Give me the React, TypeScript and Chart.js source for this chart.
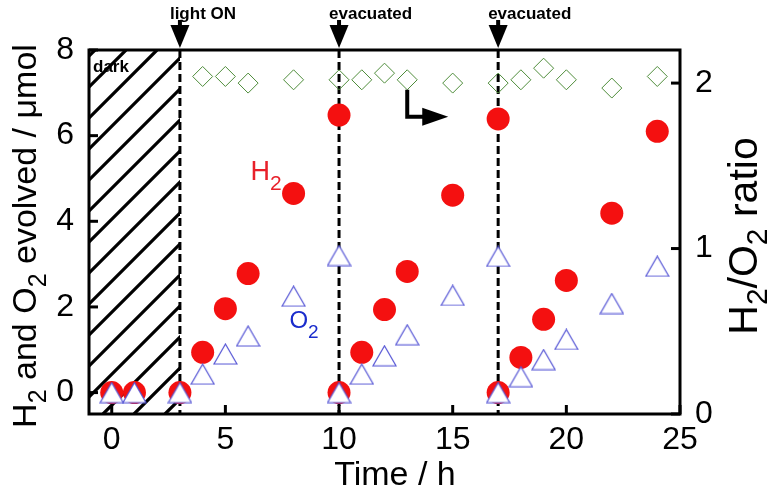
import React, { useEffect, useRef } from "react";
import { Chart, registerables } from "chart.js";

Chart.register(...registerables);

// ---- data ----
const h2Times = [0, 1, 3, 4, 5, 6, 8, 10, 10, 11, 12, 13, 15, 17, 17, 18, 19, 20, 22, 24];
const h2Values = [0, 0, 0, 0.94, 1.96, 2.78, 4.65, 6.48, 0, 0.94, 1.94, 2.83, 4.61, 6.39, 0, 0.82, 1.71, 2.62, 4.19, 6.1];
const o2Times = [0, 1, 3, 4, 5, 6, 8, 10, 10, 11, 12, 13, 15, 17, 17, 18, 19, 20, 22, 24];
const o2Values = [0, 0, 0, 0.43, 0.9, 1.32, 2.25, 3.2, 0, 0.43, 0.86, 1.35, 2.27, 3.18, 0, 0.37, 0.77, 1.24, 2.08, 2.95];
const ratioTimes = [4, 5, 6, 8, 10, 11, 12, 13, 15, 17, 18, 19, 20, 22, 24];
const ratioValues = [2.04, 2.04, 2.0, 2.02, 2.02, 2.02, 2.06, 2.02, 2.0, 2.0, 2.02, 2.09, 2.02, 1.97, 2.04];

const xTicks = [0, 5, 10, 15, 20, 25];
const yTicks = [0, 2, 4, 6, 8];
const y1Ticks = [0, 1, 2];

const eventTimes = [3, 10, 17];
const eventLabels = ["light ON", "evacuated", "evacuated"];
const darkRange = [-1, 3];
const ratioArrowTime = 13;

const FONT = "'Liberation Sans', Arial, Helvetica, sans-serif";

type Part = { t: string; sub?: boolean };

function drawRich(ctx: CanvasRenderingContext2D, parts: Part[], size: number, subSize: number, subDrop: number, color: string) {
  ctx.fillStyle = color;
  ctx.textBaseline = "alphabetic";
  ctx.textAlign = "left";
  let total = 0;
  for (const p of parts) {
    ctx.font = `${p.sub ? subSize : size}px ${FONT}`;
    total += ctx.measureText(p.t).width;
  }
  let x = -total / 2;
  for (const p of parts) {
    ctx.font = `${p.sub ? subSize : size}px ${FONT}`;
    ctx.fillText(p.t, x, p.sub ? subDrop : 0);
    x += ctx.measureText(p.t).width;
  }
}

function makeTriangle(): HTMLCanvasElement {
  const c = document.createElement("canvas");
  const w = 25, h = 22;
  c.width = w;
  c.height = h;
  const g = c.getContext("2d")!;
  g.beginPath();
  g.moveTo(w / 2, 1);
  g.lineTo(w - 1, h - 1);
  g.lineTo(1, h - 1);
  g.closePath();
  g.fillStyle = "#ffffff";
  g.fill();
  g.strokeStyle = "#5555d5";
  g.lineWidth = 1.2;
  g.stroke();
  return c;
}

const decorPlugin = {
  id: "decor",
  beforeDatasetsDraw(chart: any) {
    const { ctx, chartArea: a, scales } = chart;
    const xs = scales.x;
    ctx.save();
    // hatched dark region
    const hx0 = xs.getPixelForValue(darkRange[0]);
    const hx1 = xs.getPixelForValue(darkRange[1]);
    ctx.beginPath();
    ctx.rect(hx0, a.top, hx1 - hx0, a.bottom - a.top);
    ctx.clip();
    ctx.strokeStyle = "#000";
    ctx.lineWidth = 3.2;
    const H = a.bottom - a.top;
    for (let k = -20; k < 20; k++) {
      const x0 = hx0 + 14 + 31 * k;
      ctx.beginPath();
      ctx.moveTo(x0, a.bottom);
      ctx.lineTo(x0 + H, a.top);
      ctx.stroke();
    }
    ctx.restore();

    ctx.save();
    ctx.fillStyle = "#000";
    ctx.font = `bold 17px ${FONT}`;
    ctx.textBaseline = "alphabetic";
    ctx.textAlign = "left";
    ctx.fillText("dark", hx0 + 4, a.top + 22);
    ctx.restore();

    // dashed event lines
    ctx.save();
    ctx.strokeStyle = "#000";
    ctx.lineWidth = 3;
    ctx.setLineDash([8, 4]);
    for (const t of eventTimes) {
      const px = xs.getPixelForValue(t);
      ctx.beginPath();
      ctx.moveTo(px, a.top);
      ctx.lineTo(px, a.bottom);
      ctx.stroke();
    }
    ctx.restore();
  },
  afterDatasetsDraw(chart: any) {
    const { ctx, chartArea: a, scales } = chart;
    const xs = scales.x, ys = scales.y, y1 = scales.y1;
    ctx.save();
    // frame
    ctx.strokeStyle = "#000";
    ctx.lineWidth = 3;
    ctx.strokeRect(a.left, a.top, a.right - a.left, a.bottom - a.top);
    // inward ticks
    ctx.lineWidth = 3;
    for (const v of xTicks) {
      const px = xs.getPixelForValue(v);
      ctx.beginPath();
      ctx.moveTo(px, a.bottom);
      ctx.lineTo(px, a.bottom - 9);
      ctx.stroke();
    }
    for (const v of yTicks) {
      const py = ys.getPixelForValue(v);
      ctx.beginPath();
      ctx.moveTo(a.left, py);
      ctx.lineTo(a.left + 9, py);
      ctx.stroke();
    }
    for (const v of y1Ticks) {
      const py = y1.getPixelForValue(v);
      ctx.beginPath();
      ctx.moveTo(a.right, py);
      ctx.lineTo(a.right - 9, py);
      ctx.stroke();
    }

    // event arrows and labels
    ctx.fillStyle = "#000";
    for (let i = 0; i < eventTimes.length; i++) {
      const px = xs.getPixelForValue(eventTimes[i]);
      ctx.fillRect(px - 2, 20, 4, 10);
      ctx.beginPath();
      ctx.moveTo(px - 9.5, 25);
      ctx.lineTo(px + 9.5, 25);
      ctx.lineTo(px, 48);
      ctx.closePath();
      ctx.fill();
      ctx.font = `bold 17px ${FONT}`;
      ctx.textAlign = "left";
      ctx.textBaseline = "alphabetic";
      ctx.fillText(eventLabels[i], px - 10, 19);
    }

    // L-shaped arrow pointing to right axis
    const ax = xs.getPixelForValue(ratioArrowTime);
    const ay0 = y1.getPixelForValue(ratioValues[ratioTimes.indexOf(ratioArrowTime)]) + 10;
    const ay1 = ay0 + 27;
    ctx.strokeStyle = "#000";
    ctx.lineWidth = 4;
    ctx.setLineDash([]);
    ctx.beginPath();
    ctx.moveTo(ax, ay0);
    ctx.lineTo(ax, ay1);
    ctx.lineTo(ax + 17, ay1);
    ctx.stroke();
    ctx.beginPath();
    ctx.moveTo(ax + 15, ay1 - 9);
    ctx.lineTo(ax + 41, ay1);
    ctx.lineTo(ax + 15, ay1 + 9);
    ctx.closePath();
    ctx.fill();

    // series labels
    ctx.save();
    ctx.translate(266, 180);
    drawRich(ctx, [{ t: "H" }, { t: "2", sub: true }], 27, 21, 10, "#e8202a");
    ctx.restore();
    ctx.save();
    ctx.translate(304, 328);
    drawRich(ctx, [{ t: "O" }, { t: "2", sub: true }], 24, 19, 10, "#1a2ccc");
    ctx.restore();

    // axis titles
    ctx.save();
    ctx.translate(36, 236);
    ctx.rotate(-Math.PI / 2);
    drawRich(
      ctx,
      [{ t: "H" }, { t: "2", sub: true }, { t: " and O" }, { t: "2", sub: true }, { t: " evolved / μmol" }],
      34, 25, 10, "#000"
    );
    ctx.restore();
    ctx.save();
    ctx.translate(757, 236);
    ctx.rotate(-Math.PI / 2);
    drawRich(ctx, [{ t: "H" }, { t: "2", sub: true }, { t: "/O" }, { t: "2", sub: true }, { t: " ratio" }], 41, 30, 10, "#000");
    ctx.restore();
    ctx.save();
    ctx.translate(395, 485);
    drawRich(ctx, [{ t: "Time / h" }], 34, 25, 9, "#000");
    ctx.restore();

    ctx.restore();
  },
};

export default function App() {
  const ref = useRef<HTMLCanvasElement | null>(null);
  useEffect(() => {
    if (!ref.current) return;
    const tri = makeTriangle();
    const tickFont = { family: FONT, size: 32 };
    const chart = new Chart(ref.current, {
      type: "scatter",
      data: {
        datasets: [
          {
            label: "ratio",
            data: ratioTimes.map((t, i) => ({ x: t, y: ratioValues[i] })),
            yAxisID: "y1",
            pointStyle: "rectRot",
            pointRadius: 10,
            pointBackgroundColor: "rgba(255,255,255,0)",
            pointBorderColor: "#4e8c3a",
            pointBorderWidth: 1,
            order: 0,
          },
          {
            label: "O2",
            data: o2Times.map((t, i) => ({ x: t, y: o2Values[i] })),
            yAxisID: "y",
            pointStyle: tri as any,
            pointRadius: 12,
            order: 1,
          },
          {
            label: "H2",
            data: h2Times.map((t, i) => ({ x: t, y: h2Values[i] })),
            yAxisID: "y",
            pointStyle: "circle",
            pointRadius: 11.5,
            pointBackgroundColor: "#f41010",
            pointBorderColor: "#f41010",
            pointBorderWidth: 0,
            order: 2,
          },
        ],
      },
      options: {
        animation: false,
        responsive: false,
        maintainAspectRatio: false,
        layout: { padding: { top: 50, left: 0, right: 0, bottom: 0 } },
        plugins: { legend: { display: false }, tooltip: { enabled: false } },
        scales: {
          x: {
            type: "linear",
            min: -1,
            max: 25,
            afterBuildTicks: (s: any) => { s.ticks = xTicks.map((v) => ({ value: v })); },
            afterFit: (s: any) => { s.height = 78; },
            ticks: { font: tickFont, color: "#000", padding: 7, maxRotation: 0, autoSkip: false },
            grid: { display: false, drawTicks: false },
            border: { display: false },
          },
          y: {
            type: "linear",
            position: "left",
            min: -0.5,
            max: 8,
            afterBuildTicks: (s: any) => { s.ticks = yTicks.map((v) => ({ value: v })); },
            afterFit: (s: any) => { s.width = 89; },
            ticks: { font: tickFont, color: "#000", padding: 15, autoSkip: false },
            grid: { display: false, drawTicks: false },
            border: { display: false },
          },
          y1: {
            type: "linear",
            position: "right",
            min: 0,
            max: 2.2,
            afterBuildTicks: (s: any) => { s.ticks = y1Ticks.map((v) => ({ value: v })); },
            afterFit: (s: any) => { s.width = 95; },
            ticks: { font: tickFont, color: "#000", padding: 15, autoSkip: false },
            grid: { display: false, drawTicks: false },
            border: { display: false },
          },
        },
      },
      plugins: [decorPlugin],
    } as any);
    return () => chart.destroy();
  }, []);
  return (
    <div style={{ position: "fixed", left: 0, top: 0, width: 775, height: 492, background: "#fff" }}>
      <canvas ref={ref} width={775} height={492} style={{ width: 775, height: 492 }} />
    </div>
  );
}
